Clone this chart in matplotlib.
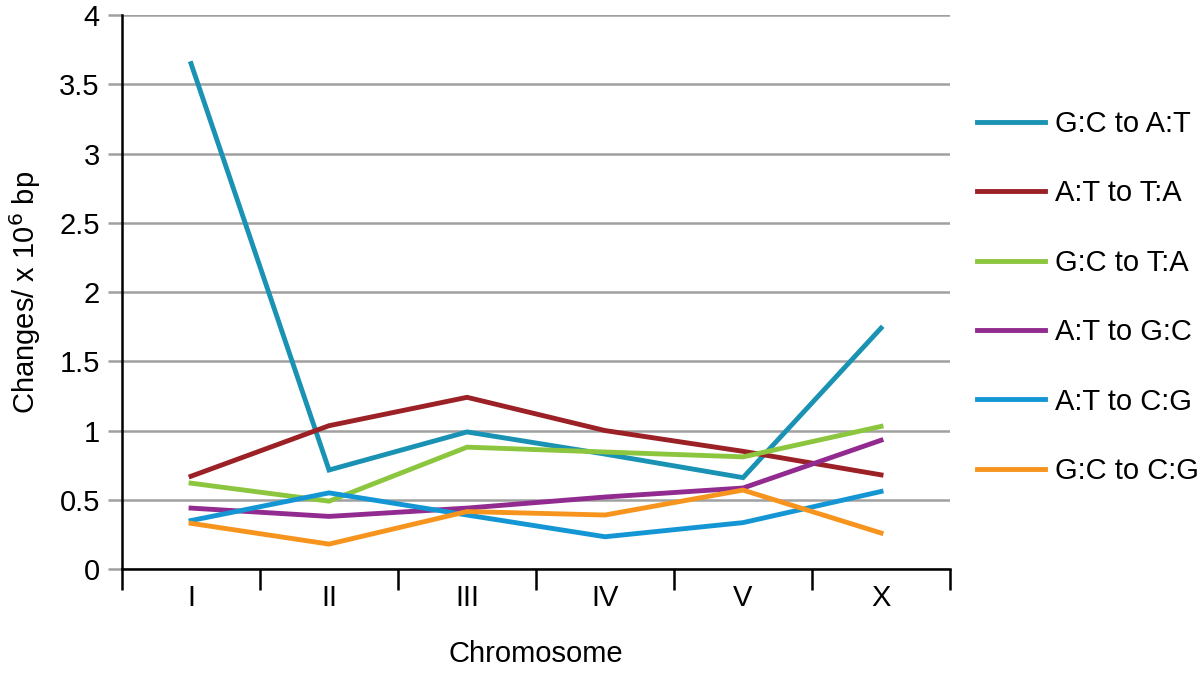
import matplotlib.pyplot as plt
from matplotlib.ticker import FixedLocator

plt.rcParams['font.family'] = ['Liberation Sans', 'DejaVu Sans']

chromosomes = ['I', 'II', 'III', 'IV', 'V', 'X']
gc_to_at = [3.65, 0.715, 0.99, 0.83, 0.66, 1.74]
at_to_ta = [0.67, 1.035, 1.24, 1.0, 0.85, 0.68]
gc_to_ta = [0.62, 0.49, 0.88, 0.845, 0.81, 1.03]
at_to_gc = [0.44, 0.38, 0.44, 0.52, 0.585, 0.93]
at_to_cg = [0.35, 0.55, 0.39, 0.233, 0.335, 0.56]
gc_to_cg = [0.33, 0.18, 0.415, 0.39, 0.57, 0.26]

series = [
    ('G:C to A:T', gc_to_at, '#1a92b3'),
    ('A:T to T:A', at_to_ta, '#9b2126'),
    ('G:C to T:A', gc_to_ta, '#8cc63f'),
    ('A:T to G:C', at_to_gc, '#922b8f'),
    ('A:T to C:G', at_to_cg, '#1496d4'),
    ('G:C to C:G', gc_to_cg, '#f7941e'),
]

FS = 21

fig = plt.figure(figsize=(12, 6.73), dpi=100)
ax = fig.add_axes([0.1017, 0.1545, 0.69, 0.823])

x = list(range(len(chromosomes)))
for label, vals, color in series:
    ax.plot(x, vals, color=color, lw=3.5, label=label, solid_joinstyle='miter', zorder=3)

ax.set_xlim(-0.5, 5.5)
ax.set_ylim(0, 4)
ax.set_yticks([i * 0.5 for i in range(9)])
ax.set_yticklabels(['0', '0.5', '1', '1.5', '2', '2.5', '3', '3.5', '4'])
ax.grid(axis='y', color='#a0a0a0', lw=1.8, zorder=1)
ax.tick_params(axis='y', length=10, width=1.8, color='#a0a0a0', labelsize=FS, pad=6)

ax.set_xticks(x)
ax.set_xticklabels(chromosomes)
ax.xaxis.set_minor_locator(FixedLocator([i - 0.5 for i in range(7)]))
ax.tick_params(axis='x', which='major', length=0, labelsize=FS, pad=11)
ax.tick_params(axis='x', which='minor', length=15, width=1.8, color='black')

for s in ['top', 'right']:
    ax.spines[s].set_visible(False)
ax.spines['left'].set_linewidth(1.8)
ax.spines['bottom'].set_linewidth(1.8)

ax.set_xlabel('Chromosome', fontsize=FS, labelpad=20)
ax.set_ylabel('Changes/ x 10$^6$ bp', fontsize=FS, labelpad=12)

ax.legend(loc='upper left', bbox_to_anchor=(1.0185, 0.850), frameon=False,
          fontsize=FS, handlelength=2.33, handletextpad=0.34, labelspacing=1.42,
          borderaxespad=0)

fig.savefig('out.png', dpi=100)
